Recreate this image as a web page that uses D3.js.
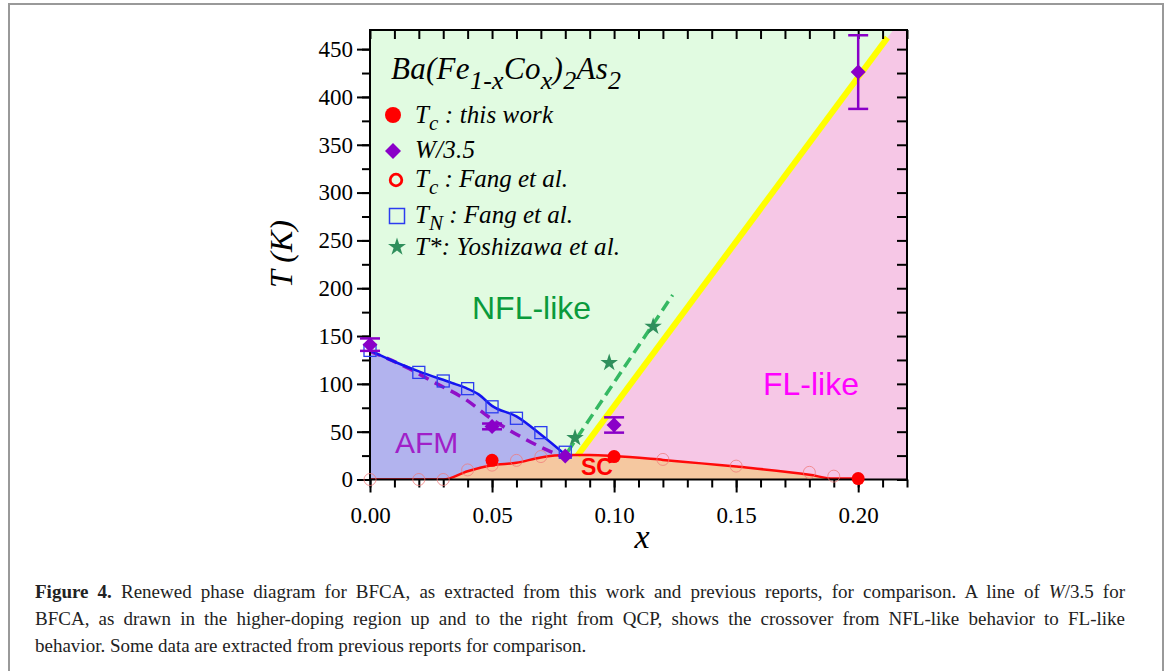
<!DOCTYPE html>
<html>
<head>
<meta charset="utf-8">
<script src="https://cdn.jsdelivr.net/npm/d3@7"></script>
<style>
  body { margin: 0; background: #fff; }
  svg { display: block; }
  .serif { font-family: "Liberation Serif", "Times New Roman", serif; }
  .sans { font-family: "Liberation Sans", Arial, sans-serif; }
</style>
</head>
<body>
<div class="grafico"></div>
<script>
/* Datos: [x, T(K)] */
const tcThisWork = [[0.05, 20], [0.10, 24], [0.20, 1]];
const wOver35 = [[0.00, 141, 6.5], [0.05, 55.5, 3], [0.08, 24.5, 0], [0.10, 57, 8], [0.20, 426, 38.5]]; // x, T, error
const tcFang = [[0.00, 0], [0.02, 0], [0.03, 0], [0.04, 10], [0.05, 15], [0.06, 20], [0.07, 24], [0.12, 21], [0.15, 14], [0.18, 7.5], [0.19, 3.5]];
const tnFang = [[0.00, 135], [0.02, 112], [0.03, 103], [0.04, 95], [0.05, 76], [0.06, 64], [0.07, 49], [0.08, 28.5]];
const tStar = [[0.084, 43.5], [0.098, 122], [0.116, 160]];

/* Lineas de fase */
const afmLine = [[0.00, 135], [0.0075, 126], [0.02, 113], [0.0335, 101], [0.039, 96], [0.0445, 89], [0.05, 77], [0.06, 66], [0.0705, 46], [0.08, 26]];
const afmDashed = [[0.00, 134], [0.0144, 118], [0.0267, 101], [0.039, 84], [0.05, 63], [0.0623, 44], [0.0733, 30], [0.079, 24]];
const scLine = [[0.00, 0], [0.03, 0], [0.04, 8.7], [0.05, 15], [0.06, 17.5], [0.07, 23], [0.08, 25.5], [0.09, 25.5], [0.10, 24.5], [0.12, 20.5], [0.15, 13.5], [0.18, 5], [0.19, 1], [0.20, 1]];
const greenDashed = [[0.081, 29], [0.124, 193]];
const yellowLine = [[0.085, 25], [0.212, 462]];

/* Ejes */
const xMajor = [0, 0.05, 0.10, 0.15, 0.20];
const xLabels = ['0.00', '0.05', '0.10', '0.15', '0.20'];
const xMinor = d3.range(0, 23).map(i => i / 100);
const yMajor = [0, 50, 100, 150, 200, 250, 300, 350, 400, 450];
const yMinor = d3.range(0, 19).map(i => i * 25);

const SERIF = '"Liberation Serif", "Times New Roman", serif';
const w = 1171;
const h = 671;
const pLeft = 370, pRight = 907, pTop = 30, pBottom = 479.5;

const svg = d3.select('.grafico')
  .append('svg')
  .attr('width', w)
  .attr('height', h);

const xScale = d3.scaleLinear().domain([0, 0.22]).range([pLeft, pRight]);
const yScale = d3.scaleLinear().domain([0, 470]).range([pBottom, pTop]);

const line = d3.line().x(d => xScale(d[0])).y(d => yScale(d[1]));
const smooth = d3.line().x(d => xScale(d[0])).y(d => yScale(d[1])).curve(d3.curveMonotoneX);

svg.append('defs').append('clipPath')
  .attr('id', 'clip')
  .append('rect')
  .attr('x', pLeft).attr('y', pTop)
  .attr('width', pRight - pLeft).attr('height', pBottom - pTop);

const plot = svg.append('g').attr('clip-path', 'url(#clip)');

/* Regiones */
plot.append('rect')
  .attr('x', pLeft).attr('y', pTop)
  .attr('width', pRight - pLeft).attr('height', pBottom - pTop)
  .attr('fill', '#e1fbe1');

const slope = (yellowLine[1][1] - yellowLine[0][1]) / (yellowLine[1][0] - yellowLine[0][0]);
const xTop = yellowLine[0][0] + (470 - yellowLine[0][1]) / slope;
const flPoly = [yellowLine[0], [xTop, 470], [0.22, 470], [0.22, 0], [yellowLine[0][0], 0]];
plot.append('path')
  .attr('d', line(flPoly) + 'Z')
  .attr('fill', '#f6c7e6');

plot.append('path')
  .datum(afmLine)
  .attr('d', d3.area().x(d => xScale(d[0])).y0(yScale(0)).y1(d => yScale(d[1])).curve(d3.curveMonotoneX))
  .attr('fill', '#b2b3ee');

plot.append('path')
  .datum(scLine)
  .attr('d', d3.area().x(d => xScale(d[0])).y0(yScale(0)).y1(d => yScale(d[1])).curve(d3.curveMonotoneX))
  .attr('fill', '#f5c8a0');

/* Lineas */
plot.append('path')
  .attr('d', line(yellowLine))
  .attr('fill', 'none').attr('stroke', '#ffff00').attr('stroke-width', 6);

plot.append('path')
  .attr('d', line(greenDashed))
  .attr('fill', 'none').attr('stroke', '#35b862').attr('stroke-width', 3.5)
  .attr('stroke-dasharray', '11,6');

plot.append('path')
  .attr('d', smooth(afmDashed))
  .attr('fill', 'none').attr('stroke', '#9010c8').attr('stroke-width', 3.5)
  .attr('stroke-dasharray', '11,7');

plot.append('path')
  .attr('d', smooth(afmLine))
  .attr('fill', 'none').attr('stroke', '#1414f0').attr('stroke-width', 2.5);

plot.append('path')
  .attr('d', smooth(scLine))
  .attr('fill', 'none').attr('stroke', '#ff0a0a').attr('stroke-width', 2.5);

/* Textos de regiones */
const region = (txt, x, y, size, color, weight) => svg.append('text')
  .attr('class', 'sans')
  .attr('x', x).attr('y', y)
  .attr('font-size', size).attr('font-weight', weight || 'normal')
  .attr('fill', color).text(txt);
region('NFL-like', 472, 319, 32, '#0a9a3c');
region('FL-like', 763, 395, 32, '#ff00ff');
region('AFM', 395, 453, 30, '#a020c8');
region('SC', 581, 475, 23, '#ff0000', 'bold');

/* Marco y marcas */
svg.append('rect')
  .attr('x', pLeft).attr('y', pTop)
  .attr('width', pRight - pLeft).attr('height', pBottom - pTop)
  .attr('fill', 'none').attr('stroke', '#000').attr('stroke-width', 2);

const noLabel = () => '';
svg.append('g').attr('transform', `translate(0,${pBottom})`)
  .call(d3.axisBottom(xScale).tickValues(xMinor).tickSize(8).tickFormat(noLabel));
svg.append('g').attr('id', 'x-axis').attr('transform', `translate(0,${pBottom})`)
  .call(d3.axisBottom(xScale).tickValues(xMajor).tickSize(13).tickPadding(14).tickFormat((d, i) => xLabels[i]));
svg.append('g').attr('transform', `translate(0,${pTop})`)
  .call(d3.axisTop(xScale).tickValues(xMinor).tickSize(-9).tickFormat(noLabel));

svg.append('g').attr('transform', `translate(${pLeft},0)`)
  .call(d3.axisLeft(yScale).tickValues(yMinor).tickSize(8).tickFormat(noLabel));
svg.append('g').attr('id', 'y-axis').attr('transform', `translate(${pLeft},0)`)
  .call(d3.axisLeft(yScale).tickValues(yMajor).tickSize(13).tickPadding(4));
svg.append('g').attr('transform', `translate(${pRight},0)`)
  .call(d3.axisRight(yScale).tickValues(yMinor).tickSize(-10).tickFormat(noLabel));

svg.selectAll('.domain').remove();
svg.selectAll('.tick line').attr('stroke', '#000').attr('stroke-width', 2);
svg.selectAll('.tick text')
  .style('font-family', SERIF)
  .style('font-size', '23px')
  .attr('fill', '#000');

/* Puntos (sin recorte, como en la figura) */
const marks = svg.append('g');

marks.selectAll('.fang')
  .data(tcFang).enter().append('circle')
  .attr('class', 'fang')
  .attr('cx', d => xScale(d[0])).attr('cy', d => yScale(d[1]))
  .attr('r', 6)
  .attr('fill', 'none').attr('stroke', '#f07878').attr('stroke-width', 1).attr('opacity', 0.75);

marks.selectAll('.tn')
  .data(tnFang).enter().append('rect')
  .attr('class', 'tn')
  .attr('x', d => xScale(d[0]) - 6).attr('y', d => yScale(d[1]) - 6)
  .attr('width', 12).attr('height', 12)
  .attr('fill', 'none').attr('stroke', '#2c3cf0').attr('stroke-width', 1.3);

marks.selectAll('.star')
  .data(tStar).enter().append('path')
  .attr('class', 'star')
  .attr('transform', d => `translate(${xScale(d[0])},${yScale(d[1])})`)
  .attr('d', d3.symbol().type(d3.symbolStar).size(95))
  .attr('fill', '#2f8f5c');

const diamond = r => `M0,${-r}L${r},0L0,${r}L${-r},0Z`;
const eb = marks.selectAll('.wbar').data(wOver35).enter().append('g').attr('class', 'wbar');
eb.filter(d => d[2] > 0).append('line')
  .attr('x1', d => xScale(d[0])).attr('x2', d => xScale(d[0]))
  .attr('y1', d => yScale(d[1] - d[2])).attr('y2', d => yScale(d[1] + d[2]))
  .attr('stroke', '#8a00c8').attr('stroke-width', 2.5);
[-1, 1].forEach(s => {
  eb.filter(d => d[2] > 0).append('line')
    .attr('x1', d => xScale(d[0]) - 10).attr('x2', d => xScale(d[0]) + 10)
    .attr('y1', d => yScale(d[1] + s * d[2])).attr('y2', d => yScale(d[1] + s * d[2]))
    .attr('stroke', '#8a00c8').attr('stroke-width', 2.5);
});
eb.append('path')
  .attr('transform', d => `translate(${xScale(d[0])},${yScale(d[1])})`)
  .attr('d', diamond(7.5))
  .attr('fill', '#8a00c8');

marks.selectAll('.tc')
  .data(tcThisWork).enter().append('circle')
  .attr('class', 'tc')
  .attr('cx', d => xScale(d[0])).attr('cy', d => yScale(d[1]))
  .attr('r', 6.5)
  .attr('fill', '#ff0000');

/* Titulos de ejes */
svg.append('text')
  .style('font-family', SERIF)
  .attr('transform', 'translate(292,254) rotate(-90)')
  .attr('text-anchor', 'middle')
  .attr('font-size', 32).attr('font-style', 'italic')
  .text('T (K)');

svg.append('text')
  .style('font-family', SERIF)
  .attr('x', 642).attr('y', 548)
  .attr('text-anchor', 'middle')
  .attr('font-size', 34).attr('font-style', 'italic')
  .text('x');

/* Leyenda */
const title = svg.append('text')
  .style('font-family', SERIF)
  .attr('x', 391).attr('y', 79)
  .attr('font-size', 31).attr('font-style', 'italic')
  .attr('textLength', 230).attr('lengthAdjust', 'spacing');
[['Ba(Fe', 0], ['1-x', 1], ['Co', 0], ['x', 1], [')', 0], ['2', 1], ['As', 0], ['2', 1]].reduce((prev, p) => {
  title.append('tspan')
    .attr('dy', (p[1] - prev) * 10)
    .attr('font-size', p[1] ? 26 : 31)
    .text(p[0]);
  return p[1];
}, 0);

const legendItems = [
  { main: 'T', sub: 'c', rest: ' : this work', y: 123, len: 138 },
  { main: 'W/3.5', sub: '', rest: '', y: 158, len: 60 },
  { main: 'T', sub: 'c', rest: ' : Fang et al.', y: 187, len: 153 },
  { main: 'T', sub: 'N', rest: ' : Fang et al.', y: 223, len: 158 },
  { main: 'T*: Yoshizawa et al.', sub: '', rest: '', y: 255, len: 205 }
];
legendItems.forEach(it => {
  const t = svg.append('text')
    .style('font-family', SERIF)
    .attr('x', 415).attr('y', it.y)
    .attr('font-size', 25).attr('font-style', 'italic')
    .attr('textLength', it.len).attr('lengthAdjust', 'spacing');
  t.append('tspan').text(it.main);
  if (it.sub) {
    t.append('tspan').attr('dy', 7).attr('font-size', 21).text(it.sub);
    t.append('tspan').attr('dy', -7).text(it.rest);
  }
});

svg.append('circle').attr('cx', 393).attr('cy', 115).attr('r', 8).attr('fill', '#ff0000');
svg.append('path').attr('transform', 'translate(393,151)').attr('d', diamond(8)).attr('fill', '#8a00c8');
svg.append('circle').attr('cx', 396).attr('cy', 180).attr('r', 5.8)
  .attr('fill', 'none').attr('stroke', '#ff0000').attr('stroke-width', 2.8);
svg.append('rect').attr('x', 389.5).attr('y', 208.5).attr('width', 15).attr('height', 15)
  .attr('fill', 'none').attr('stroke', '#2c3cf0').attr('stroke-width', 1.5);
svg.append('path').attr('transform', 'translate(397,247)')
  .attr('d', d3.symbol().type(d3.symbolStar).size(100)).attr('fill', '#2f8f5c');

/* Recuadro y leyenda de figura */
svg.append('path')
  .attr('d', 'M9,671V4H1163V671')
  .attr('fill', 'none').attr('stroke', '#999').attr('stroke-width', 2);

const caption = [
  { parts: [['Figure 4.', 'bold'], [' Renewed phase diagram for BFCA, as extracted from this work and previous reports, for comparison. A line of ', ''], ['W', 'italic'], ['/3.5 for', '']], len: 1090 },
  { parts: [['BFCA, as drawn in the higher-doping region up and to the right from QCP, shows the crossover from NFL-like behavior to FL-like', '']], len: 1090 },
  { parts: [['behavior. Some data are extracted from previous reports for comparison.', '']], len: 0 }
];
caption.forEach((c, i) => {
  const t = svg.append('text')
    .style('font-family', SERIF)
    .attr('x', 35).attr('y', 598 + i * 27)
    .attr('font-size', 19).attr('fill', '#222');
  c.parts.forEach(p => {
    t.append('tspan')
      .attr('font-weight', p[1] === 'bold' ? 'bold' : 'normal')
      .attr('font-style', p[1] === 'italic' ? 'italic' : 'normal')
      .text(p[0]);
  });
  /* justificado con espacio entre palabras */
  if (c.len) {
    const natural = t.node().getComputedTextLength();
    const spaces = c.parts.map(p => p[0]).join('').split(' ').length - 1;
    t.attr('word-spacing', (c.len - natural) / spaces);
  }
});
</script>
</body>
</html>
